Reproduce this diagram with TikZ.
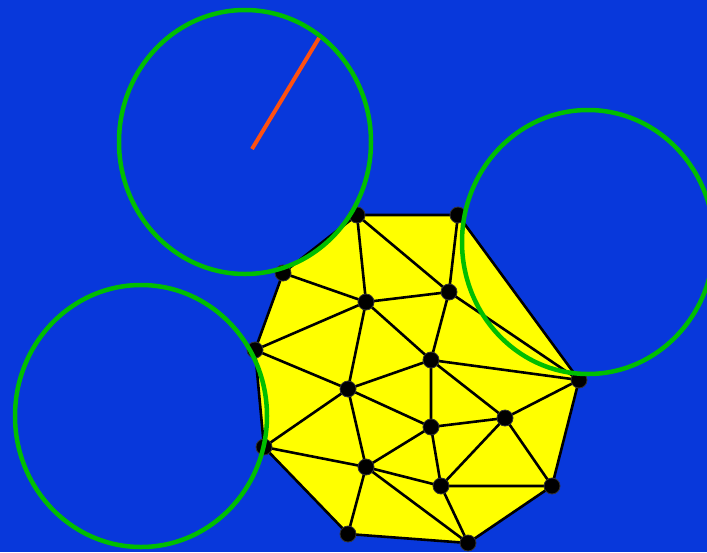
\documentclass[tikz,border=0pt]{standalone}
\definecolor{bg}{RGB}{8,56,219}
\definecolor{poly}{RGB}{255,255,0}
\definecolor{ring}{RGB}{0,190,0}
\definecolor{ray}{RGB}{255,80,16}
\begin{document}
\begin{tikzpicture}[x=1pt,y=-1pt,
  vert/.style={circle,fill=black,draw=black!80,line width=0.8pt,inner sep=0pt,minimum size=16pt},
  edge/.style={line width=2.6pt,draw=black},
  ringstyle/.style={draw=ring,line width=4.5pt},
  raystyle/.style={draw=ray,line width=4pt}]
\fill[bg] (0,0) rectangle (707,552);
\useasboundingbox (0,0) rectangle (707,552);
% coordinates
\coordinate (h1) at (357,215);
\coordinate (h2) at (458,215);
\coordinate (h3) at (579,380);
\coordinate (h4) at (552,486);
\coordinate (h5) at (468,543);
\coordinate (h6) at (348,534);
\coordinate (h7) at (264,447);
\coordinate (h8) at (255,350);
\coordinate (h9) at (283,273);
\coordinate (a) at (366,302);
\coordinate (b) at (449,292);
\coordinate (c) at (431,360);
\coordinate (d) at (348,389);
\coordinate (e) at (505,418);
\coordinate (f) at (431,427);
\coordinate (g) at (366,467);
\coordinate (k) at (441,486);
% polygon
\filldraw[edge,fill=poly,line join=round] (h1)--(h2)--(h3)--(h4)--(h5)--(h6)--(h7)--(h8)--(h9)--cycle;
% interior edges
\draw[edge] (h1)--(b) (h1)--(a) (h9)--(a) (a)--(b) (h2)--(b) (b)--(h3) (b)--(c)
  (a)--(h8) (a)--(c) (a)--(d) (h8)--(d) (d)--(c) (c)--(h3) (c)--(e) (c)--(f)
  (d)--(f) (d)--(h7) (d)--(g) (h7)--(g) (g)--(f) (g)--(k) (g)--(h6) (g)--(h5)
  (f)--(e) (f)--(k) (k)--(e) (k)--(h4) (k)--(h5) (e)--(h3) (e)--(h4);
% vertices
\foreach \p in {h1,h2,h3,h4,h5,h6,h7,h8,h9,a,b,c,d,e,f,g,k}
  \node[vert] (n\p) at (\p) {};
% circles
\node[draw=none,inner sep=0pt] (c1) at (245,142) {};
\node[draw=none,inner sep=0pt] (c2) at (588,242) {};
\node[draw=none,inner sep=0pt] (c3) at (141,416) {};
\draw[ringstyle] (c1) ellipse [x radius=126, y radius=132];
\draw[ringstyle] (c2) ellipse [x radius=126, y radius=132];
\draw[ringstyle] (c3) ellipse [x radius=126, y radius=131];
\coordinate (rend) at (319,38);
\draw[raystyle] (252,149) -- (rend);
\end{tikzpicture}
\end{document}
